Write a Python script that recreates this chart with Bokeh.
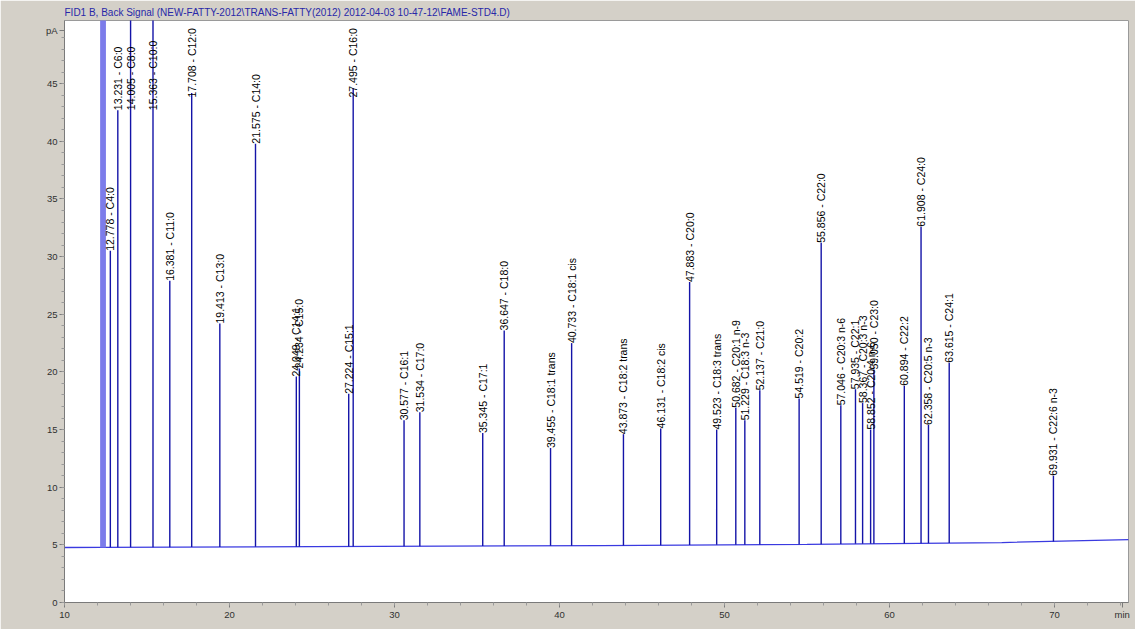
import numpy as np
from bokeh.plotting import figure
from bokeh.models import ColumnDataSource, FixedTicker, Range1d
from bokeh.core.properties import value
from bokeh.embed import file_html
from bokeh.resources import INLINE

# ---------------- data ----------------
title_text = "FID1 B, Back Signal (NEW-FATTY-2012\\TRANS-FATTY(2012) 2012-04-03 10-47-12\\FAME-STD4.D)"

peak_rt = [12.778, 13.231, 14.005, 15.363, 16.381, 17.708, 19.413, 21.575, 24.049, 24.234,
           27.224, 27.495, 30.577, 31.534, 35.345, 36.647, 39.455, 40.733, 43.873, 46.131,
           47.883, 49.523, 50.682, 51.229, 52.137, 54.519, 55.856, 57.046, 57.935, 58.367,
           58.852, 59.050, 60.894, 61.908, 62.358, 63.615, 69.931]
peak_name = ["C4:0", "C6:0", "C8:0", "C10:0", "C11:0", "C12:0", "C13:0", "C14:0", "C14:1", "C15:0",
             "C15:1", "C16:0", "C16:1", "C17:0", "C17:1", "C18:0", "C18:1 trans", "C18:1 cis",
             "C18:2 trans", "C18:2 cis", "C20:0", "C18:3 trans", "C20:1 n-9", "C18:3 n-3",
             "C21:0", "C20:2", "C22:0", "C20:3 n-6", "C22:1", "C20:3 n-3", "C20:4 n-6", "C23:0",
             "C22:2", "C24:0", "C20:5 n-3", "C24:1", "C22:6 n-3"]
peak_height = [30.5, 42.7, 60.0, 60.0, 27.9, 44.2, 24.2, 39.8, 19.6, 20.3,
               18.1, 44.6, 15.8, 16.5, 14.7, 23.6, 13.4, 22.5, 14.6, 15.1,
               27.8, 15.0, 16.9, 15.8, 18.4, 17.7, 31.2, 17.1, 18.5, 17.3,
               15.0, 20.2, 18.8, 32.6, 15.4, 20.8, 11.0]

solvent_rt = [12.25, 12.42]
solvent_height = [60.0, 60.0]

base_t = [10.0, 12.2, 25.0, 42.5, 55.0, 66.8, 74.5]
base_v = [4.77, 4.78, 4.85, 4.94, 5.05, 5.20, 5.45]

x_ticks = [10, 20, 30, 40, 50, 60, 70]
y_ticks = [0, 5, 10, 15, 20, 25, 30, 35, 40, 45]

# ---------------- styles ----------------
GRAY = "#D4D0C8"
X_MAX = 74.48
Y_MAX = 50.48
FONT = "Liberation Sans"

p = figure(width=1135, height=629, output_backend="svg", toolbar_location=None,
           x_range=Range1d(10, X_MAX), y_range=Range1d(0, Y_MAX),
           min_border_left=64, min_border_right=7, min_border_top=20, min_border_bottom=27,
           title=title_text)
p.border_fill_color = GRAY
p.background_fill_color = "white"
p.outline_line_color = "#9A9A9A"
p.grid.visible = False

p.title.text_font = FONT
p.title.text_font_size = "10px"
p.title.text_font_style = "normal"
p.title.text_color = "#2828A8"
p.title.standoff = 5
p.title.offset = 0
p.title.align = "left"

# baseline
p.line(base_t, base_v, line_color="#3A3AE0", line_width=1.3)

# solvent front
sb = np.interp(solvent_rt, base_t, base_v)
p.segment(x0=solvent_rt, y0=sb, x1=solvent_rt, y1=solvent_height,
          line_color="#7C7CEA", line_width=3)

# peaks
pb = np.interp(peak_rt, base_t, base_v)
label_y = [42.7 if h > Y_MAX else min(h, 43.8) for h in peak_height]
labels = ["%.3f - %s" % (t, n) for t, n in zip(peak_rt, peak_name)]
src = ColumnDataSource(dict(rt=peak_rt, base=pb, h=peak_height, ly=label_y, lab=labels))
p.segment(x0="rt", y0="base", x1="rt", y1="h", source=src,
          line_color="#1414A8", line_width=1.4)
p.text(x="rt", y="ly", text="lab", source=src, angle=np.pi / 2,
       text_align="left", text_baseline="middle",
       text_font=value(FONT), text_font_size="10.5px", text_color="black")

# axes
xt = FixedTicker(ticks=x_ticks + [74.1],
                 minor_ticks=[v for v in np.arange(10, 74.1, 2.0)])
p.xaxis.ticker = xt
p.xaxis.major_label_overrides = {74.1: "min"}
yt = FixedTicker(ticks=y_ticks + [49.6], minor_ticks=list(range(0, 50)))
p.yaxis.ticker = yt
p.yaxis.major_label_overrides = {49.6: "pA"}

for ax in (p.xaxis[0], p.yaxis[0]):
    ax.axis_line_color = "#7A7A7A"
    ax.major_tick_line_color = "#7A7A7A"
    ax.minor_tick_line_color = "#9A9A9A"
    ax.major_tick_in = 0
    ax.major_tick_out = 5
    ax.minor_tick_in = 0
    ax.minor_tick_out = 3
    ax.major_label_text_font = FONT
    ax.major_label_text_font_size = "9.5px"
    ax.major_label_text_color = "#303030"
    ax.major_label_standoff = 2
p.xaxis.major_label_standoff = 1

open("out.html", "w").write(file_html(p, INLINE))
